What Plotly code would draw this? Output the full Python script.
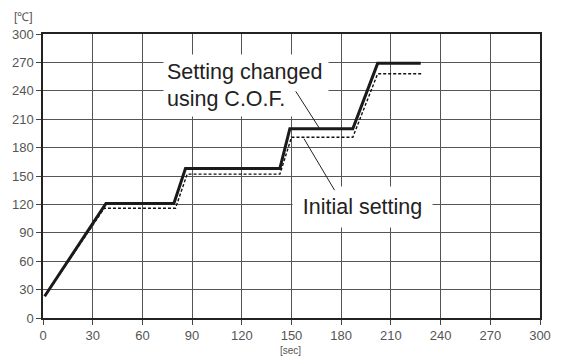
import plotly.graph_objects as go

# Data (time in sec, temperature in °C)
changed_x = [1, 38, 79, 86, 143, 149, 187, 202, 228]
changed_y = [23, 121, 121, 158, 158, 200, 200, 269, 269]
initial_x = [1, 37, 80, 87, 143, 150, 187, 202, 229]
initial_y = [23, 116, 116, 152, 152, 191, 191, 258, 258]
tick_vals = [0, 30, 60, 90, 120, 150, 180, 210, 240, 270, 300]

FONT = "Liberation Sans, Arial, Helvetica"

fig = go.Figure()
fig.add_trace(go.Scatter(x=initial_x, y=initial_y, mode="lines",
                         line=dict(color="#111", width=1.4, dash="3px,2px"),
                         showlegend=False, hoverinfo="skip"))
fig.add_trace(go.Scatter(x=changed_x, y=changed_y, mode="lines",
                         line=dict(color="#1a1a1a", width=3),
                         showlegend=False, hoverinfo="skip"))

axis_common = dict(range=[0, 300], tickvals=tick_vals, showgrid=True,
                   gridcolor="#555", gridwidth=1, zeroline=False,
                   showline=True, linecolor="#222", linewidth=1.5, mirror=True,
                   ticks="outside", ticklen=5, tickcolor="#444", tickwidth=1,
                   tickfont=dict(family=FONT, size=13, color="#555"),
                   fixedrange=True, automargin=False)
fig.update_xaxes(**axis_common)
fig.update_yaxes(**axis_common)

# Text boxes
fig.add_annotation(x=122.5, y=245.5, text="Setting changed<br>using C.O.F.",
                   showarrow=False, bgcolor="white", align="left",
                   width=158, height=55, borderpad=3,
                   font=dict(family=FONT, size=21.5, color="#222"))
fig.add_annotation(x=192.8, y=117.2, text="Initial setting",
                   showarrow=False, bgcolor="white",
                   width=133, height=34, borderpad=3,
                   font=dict(family=FONT, size=21.5, color="#222"))

# Leader lines (drawn after the text boxes so they sit on top)
fig.add_annotation(x=167, y=200, ax=152, ay=241, axref="x", ayref="y",
                   text="", showarrow=True, arrowhead=0, arrowwidth=1,
                   arrowcolor="#222", standoff=0, startstandoff=0)
fig.add_annotation(x=176, y=135, ax=157, ay=191, axref="x", ayref="y",
                   text="", showarrow=True, arrowhead=0, arrowwidth=1,
                   arrowcolor="#222", standoff=0, startstandoff=0)

# Axis unit labels
fig.add_annotation(xref="paper", yref="paper", x=-0.062, y=1.0, yshift=17,
                   text="[℃]", showarrow=False, xanchor="left", yanchor="middle",
                   font=dict(family=FONT, size=12, color="#555"))
fig.add_annotation(xref="paper", yref="paper", x=0.497, y=0, yshift=-25,
                   text="[sec]", showarrow=False, xanchor="center", yanchor="top",
                   font=dict(family=FONT, size=10, color="#555"))

# page body has an 8px margin, so the figure is sized/offset to compensate
fig.update_layout(width=553, height=348,
                  margin=dict(l=35, r=21, t=26, b=38),
                  paper_bgcolor="white", plot_bgcolor="white")

fig.write_html("out.html")
